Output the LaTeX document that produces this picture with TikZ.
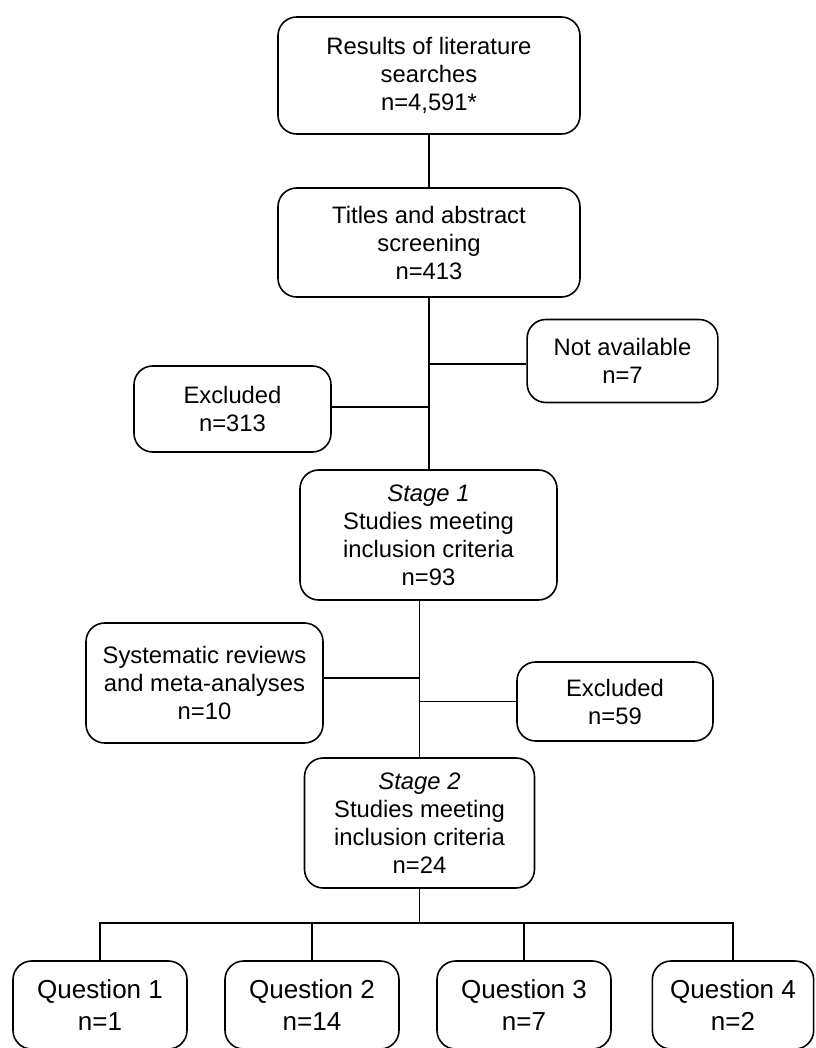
\documentclass[tikz,border=0pt]{standalone}
\usepackage{fontspec}
\setmainfont{Liberation Sans}
\begin{document}
\begin{tikzpicture}[x=0.75pt,y=-0.75pt,
  box/.style={draw, line width=1.2pt, rounded corners=14pt, align=center, inner sep=0pt,
    font=\fontsize{17.85}{21}\selectfont},
  qbox/.style={box, minimum height=66pt, font=\fontsize{19.5}{23.5}\selectfont},
  conn/.style={line width=1.2pt}]
\useasboundingbox (0,0) rectangle (815,1048);
\fill[white] (0,0) rectangle (815,1048);

\node[box, minimum width=226.5pt, minimum height=87.75pt] (b1) at (429,75.5) {Results of literature\\searches\\n=4,591*};
\node[box, minimum width=226.5pt, minimum height=81.75pt] (b2) at (429,242.5) {Titles and abstract\\screening\\n=413};
\node[box, minimum width=143pt, minimum height=62.25pt] (na) at (622.5,361) {Not available\\n=7};
\node[box, minimum width=147.75pt, minimum height=64.5pt] (ex1) at (232.5,409) {Excluded\\n=313};
\node[box, minimum width=192.75pt, minimum height=97.5pt] (s1) at (428.5,535) {\textit{Stage 1}\\Studies meeting\\inclusion criteria\\n=93};
\node[box, minimum width=177.75pt, minimum height=90pt] (sr) at (204.5,683) {Systematic reviews\\and meta-analyses\\n=10};
\node[box, minimum width=147pt, minimum height=59.25pt] (ex2) at (615,701.5) {Excluded\\n=59};
\node[box, minimum width=172.5pt, minimum height=97.5pt] (s2) at (419.5,823) {\textit{Stage 2}\\Studies meeting\\inclusion criteria\\n=24};
\node[qbox, minimum width=130.5pt] (q1) at (100,1005) {Question 1\\n=1};
\node[qbox, minimum width=130.5pt] (q2) at (312,1005) {Question 2\\n=14};
\node[qbox, minimum width=130.5pt] (q3) at (524,1005) {Question 3\\n=7};
\node[qbox, minimum width=121pt] (q4) at (733,1005) {Question 4\\n=2};

\coordinate (j1) at (429,364);
\coordinate (j2) at (429,407);
\coordinate (j3) at (419.5,678);
\coordinate (j4) at (419.5,701.5);
\coordinate (bar) at (419.5,923);

\draw[conn] (b1.south) -- (b2.north);
\draw[conn] (b2.south) -- (b2.south |- s1.north);
\draw[conn] (j1) -- (j1 -| na.west);
\draw[conn] (j2) -- (j2 -| ex1.east);
\draw[conn] (s1.south -| s2.north) -- (s2.north);
\draw[conn] (j3) -- (j3 -| sr.east);
\draw[conn] (j4) -- (ex2.west);
\draw[conn] (s2.south) -- (bar);
\draw[conn] (q1.north) |- (bar) -| (q4.north);
\draw[conn] (q2.north) -- (q2.north |- bar);
\draw[conn] (q3.north) -- (q3.north |- bar);
\end{tikzpicture}
\end{document}
